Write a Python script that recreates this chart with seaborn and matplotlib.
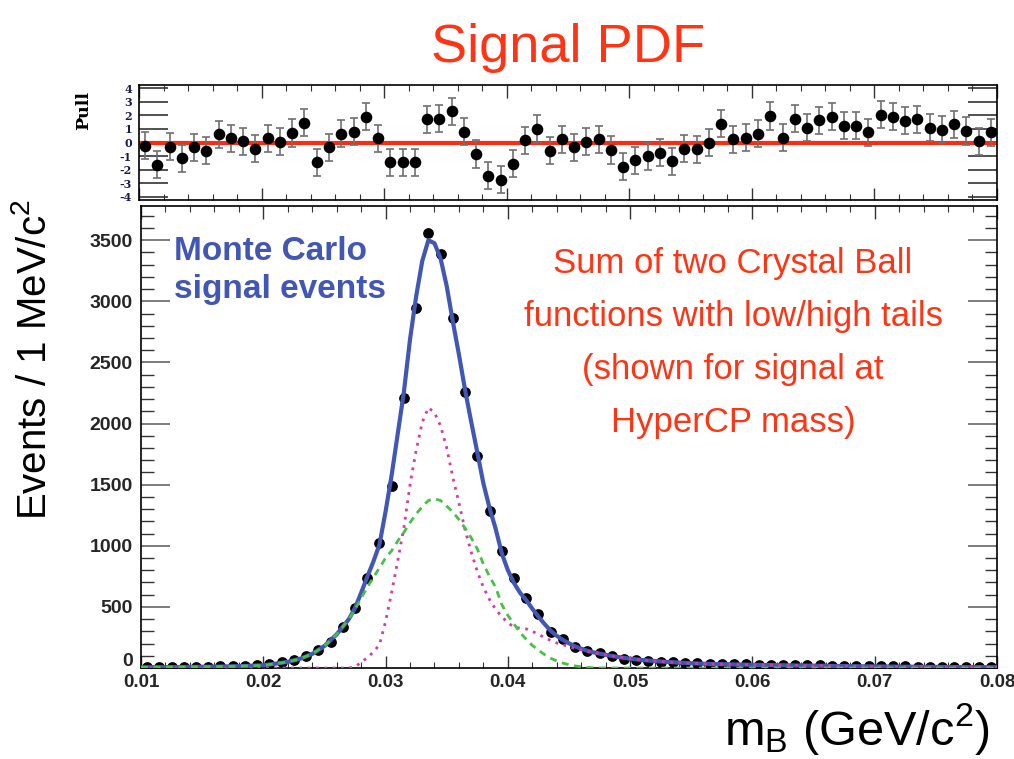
import numpy as np
import pandas as pd
import matplotlib
matplotlib.use("Agg")
import matplotlib.pyplot as plt
from matplotlib.ticker import MultipleLocator, FormatStrFormatter
from matplotlib.transforms import ScaledTranslation
import seaborn as sns

# ---------------- data ----------------
bin_lo = 0.010
bin_width = 0.001
n_bins = 70

counts = [6, 7, 7, 8, 9, 11, 13, 16, 19, 25, 33,
          48, 68, 100, 147, 215, 338, 494, 739, 1025, 1489,
          2212, 2948, 3557, 3385, 2867, 2256, 1737, 1287, 955, 736,
          570, 439, 297, 237, 175, 139, 120, 96, 77, 68,
          59, 52, 46, 41, 38, 35, 33, 31, 30, 28,
          27, 26, 25, 23, 22, 20, 18, 17, 16, 15,
          14, 13, 12, 11, 10, 9, 8, 7, 6]

pulls = [-0.25, -1.65, -0.3, -1.15, -0.35, -0.6, 0.6, 0.3, 0.1, -0.45,
         0.3, 0.05, 0.7, 1.45, -1.45, -0.35, 0.65, 0.8, 1.9, 0.3,
         -1.45, -1.45, -1.45, 1.7, 1.75, 2.3, 0.8, -0.85, -2.45, -2.75,
         -1.55, 0.15, 1.0, -0.6, 0.25, -0.35, 0.05, 0.25, -0.55, -1.8,
         -1.3, -1.0, -0.75, -1.4, -0.45, -0.5, 0.0, 1.4, 0.25, 0.35,
         0.65, 1.95, 0.35, 1.75, 1.1, 1.65, 1.9, 1.25, 1.25, 0.75,
         2.05, 1.9, 1.6, 1.7, 1.1, 0.95, 1.35, 0.85, 0.1, 0.75]
pull_errors = [1.0] * 70

curve_x = [0.010, 0.012, 0.014, 0.016, 0.018, 0.020,
           0.021, 0.022, 0.023, 0.024, 0.025, 0.026, 0.027,
           0.0275, 0.028, 0.0285, 0.029, 0.0295, 0.030, 0.0305, 0.031, 0.0315,
           0.032, 0.0325, 0.033, 0.0335, 0.034, 0.0345, 0.035, 0.0355, 0.036,
           0.0365, 0.037, 0.0375, 0.038, 0.0385, 0.039, 0.0395, 0.040, 0.0405,
           0.041, 0.0415, 0.042, 0.0425, 0.043, 0.0435, 0.044, 0.0445, 0.045,
           0.0455, 0.046, 0.0465, 0.047, 0.0475, 0.048,
           0.049, 0.050, 0.051, 0.052, 0.053, 0.054, 0.055, 0.056,
           0.058, 0.060, 0.062, 0.065, 0.068, 0.070, 0.072, 0.075, 0.078, 0.080]

# Crystal Ball 1 (narrow, high-side tail) - pink dotted
cb_high = [0, 0, 0, 0, 0, 0,
           0, 0, 0, 0, 0, 0, 0,
           10, 45, 85, 130, 190, 380, 620, 880, 1150,
           1500, 1780, 2010, 2130, 2090, 1980, 1800, 1560, 1350,
           1130, 950, 790, 660, 560, 480, 420, 370, 335,
           325, 320, 300, 275, 250, 225, 205, 190, 175,
           160, 148, 136, 126, 117, 108,
           90, 76, 65, 57, 50, 44, 39, 35,
           30, 26, 23, 19, 15, 13, 11, 9, 7, 6]

# Crystal Ball 2 (wide, low-side tail) - green dashed
cb_low = [6, 7, 9, 11, 15, 22,
          35, 50, 75, 115, 180, 275, 400,
          480, 570, 660, 740, 820, 900, 960, 1040, 1110,
          1190, 1260, 1320, 1370, 1385, 1370, 1325, 1275, 1215,
          1145, 1065, 975, 850, 750, 660, 520, 430, 360,
          290, 235, 185, 145, 110, 80, 58, 40, 27,
          17, 10, 5, 2, 1, 0,
          0, 0, 0, 0, 0, 0, 0, 0,
          0, 0, 0, 0, 0, 0, 0, 0, 0, 0]

x_ticks = [0.01, 0.02, 0.03, 0.04, 0.05, 0.06, 0.07, 0.08]
y_ticks = [0, 500, 1000, 1500, 2000, 2500, 3000, 3500]
pull_ticks = [-4, -3, -2, -1, 0, 1, 2, 3, 4]

# ---------------- derived tables ----------------
centres = bin_lo + bin_width * (np.arange(n_bins) + 0.5)
data_df = pd.DataFrame({"m": centres, "events": counts, "pull": pulls, "perr": pull_errors})
curve_df = pd.DataFrame({"m": curve_x, "cb1": cb_high, "cb2": cb_low})
curve_df["total"] = curve_df["cb1"] + curve_df["cb2"]

# ---------------- style ----------------
sns.set_theme(style="ticks")
plt.rcParams["font.family"] = ["Liberation Sans", "DejaVu Sans"]
plt.rcParams["axes.unicode_minus"] = False
plt.rcParams["mathtext.fontset"] = "custom"
plt.rcParams["mathtext.rm"] = "Liberation Sans"
plt.rcParams["mathtext.it"] = "Liberation Sans:italic"
plt.rcParams["mathtext.bf"] = "Liberation Sans:bold"

W, H = 1014, 759
fig = plt.figure(figsize=(W / 100, H / 100), dpi=100)
fig.patch.set_facecolor("white")


def box(l, t, r, b):
    return [l / W, 1 - b / H, (r - l) / W, (b - t) / H]


ax_p = fig.add_axes(box(139, 85, 997, 200))
ax_m = fig.add_axes(box(141, 206, 997, 668))

BLUE = "#4256b4"
RED = "#ff3414"

# ---------------- pull panel ----------------
ax_p.axhline(0, color="#ff2a10", lw=3, zorder=2)
ax_p.errorbar(data_df["m"], data_df["pull"], yerr=data_df["perr"], fmt="none",
              ecolor="#707070", elinewidth=1.2, capsize=3, capthick=1.2, zorder=3)
sns.scatterplot(data=data_df, x="m", y="pull", ax=ax_p, color="black", s=70,
                edgecolor="black", linewidth=0, zorder=4, legend=False)
ax_p.set_xlim(0.01, 0.08)
ax_p.set_ylim(-4.24, 4.24)
ax_p.set_yticks(pull_ticks)
ax_p.xaxis.set_major_locator(MultipleLocator(0.01))
ax_p.xaxis.set_minor_locator(MultipleLocator(0.002))
ax_p.tick_params(axis="x", which="major", direction="in", length=9, width=1, top=True,
                 labelbottom=False, color="#333333")
ax_p.tick_params(axis="x", which="minor", direction="in", length=4.5, width=0.8, top=True,
                 color="#333333")
ax_p.tick_params(axis="y", which="major", direction="in", length=21, width=1.2, right=True,
                 pad=5, labelsize=8, color="#333333")
for lab in ax_p.get_yticklabels():
    lab.set_fontfamily(["DejaVu Serif"])
    lab.set_fontweight("bold")
    lab.set_color("#1a1a50")
ax_p.set_xlabel("")
ax_p.set_ylabel("")
for s in ax_p.spines.values():
    s.set_linewidth(1.2)
    s.set_color("black")
fig.text(84 / W, 1 - 110 / H, "Pull", rotation=90, ha="center", va="center",
         fontsize=12.5, fontweight="bold", family=["DejaVu Serif"], color="black")

# ---------------- main panel ----------------
sns.scatterplot(data=data_df, x="m", y="events", ax=ax_m, color="black", s=60,
                edgecolor="black", linewidth=0, zorder=3, legend=False)
sns.lineplot(data=curve_df, x="m", y="total", ax=ax_m, color=BLUE, lw=3, zorder=4)
sns.lineplot(data=curve_df, x="m", y="cb1", ax=ax_m, color="#d838a8", lw=2,
             linestyle=(0, (1, 2)), zorder=5)
sns.lineplot(data=curve_df, x="m", y="cb2", ax=ax_m, color="#48c048", lw=2,
             linestyle=(0, (2.5, 2)), zorder=5)

ax_m.set_xlim(0.01, 0.08)
ax_m.set_ylim(0, 3780)
ax_m.set_xticks(x_ticks)
ax_m.set_yticks(y_ticks)
ax_m.xaxis.set_minor_locator(MultipleLocator(0.002))
ax_m.yaxis.set_minor_locator(MultipleLocator(100))
ax_m.xaxis.set_major_formatter(FormatStrFormatter("%.2f"))
ax_m.tick_params(axis="x", which="major", direction="in", length=9, width=1, top=True,
                 labelsize=13.5, pad=4, color="#333333")
ax_m.tick_params(axis="x", which="minor", direction="in", length=4.5, width=0.8, top=True,
                 color="#333333")
ax_m.tick_params(axis="y", which="major", direction="in", length=21, width=1.2, right=True,
                 labelsize=14, pad=6, color="#666666")
ax_m.tick_params(axis="y", which="minor", direction="in", length=9, width=1.0, right=True,
                 color="#333333")
for lab in ax_m.get_xticklabels() + ax_m.get_yticklabels():
    lab.set_fontweight("bold")
# nudge the "0" label up a little so it does not collide with "0.01"
zero_lab = ax_m.get_yticklabels()[0]
zero_lab.set_transform(zero_lab.get_transform() + ScaledTranslation(0, 6 / 72, fig.dpi_scale_trans))
ax_m.set_xlabel("")
ax_m.set_ylabel("")
for s in ax_m.spines.values():
    s.set_linewidth(1.2)
    s.set_color("black")

# ---------------- texts ----------------
fig.text(568 / W, 1 - 62 / H, "Signal PDF", ha="center", va="baseline",
         fontsize=39, color=RED)

fig.text(174 / W, 1 - 260 / H, "Monte Carlo", ha="left", va="baseline",
         fontsize=24, fontweight="bold", color=BLUE)
fig.text(174 / W, 1 - 298 / H, "signal events", ha="left", va="baseline",
         fontsize=24, fontweight="bold", color=BLUE)

red_lines = ["Sum of two Crystal Ball", "functions with low/high tails",
             "(shown for signal at", "HyperCP mass)"]
for i, line in enumerate(red_lines):
    fig.text(733 / W, 1 - (273 + 53 * i) / H, line, ha="center", va="baseline",
             fontsize=25, color=RED)

fig.text(35 / W, 1 - 360 / H, r"Events / 1 MeV/c$^{2}$", rotation=90,
         ha="center", va="center", fontsize=29, color="black")
fig.text(990 / W, 1 - 745 / H, r"m$_{\rm B}$ (GeV/c$^{2}$)", ha="right",
         va="baseline", fontsize=35, color="black")

fig.savefig("out.png", dpi=100, facecolor="white")
